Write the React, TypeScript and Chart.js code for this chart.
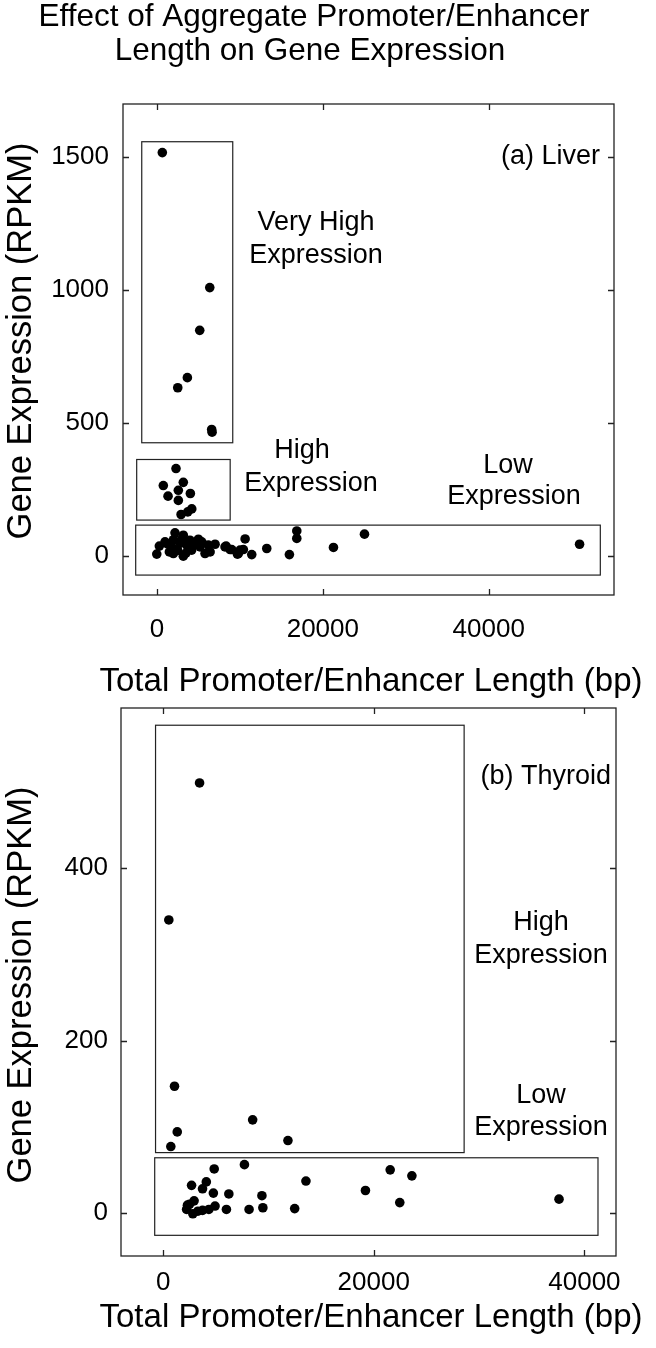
import { useEffect, useRef } from "react";
import { Chart, registerables } from "chart.js";
Chart.register(...registerables);

// ---------- Data: (a) Liver ----------
const liverLength = [
  650, 6370, 5160, 3670, 2510, 6600, 6650,
  2300, 770, 3180, 2580, 1340, 4030, 2580, 4200, 3720, 2910,
  -20, 290, 980, 1500, 1790, 2180, 1980, 2790, 3180, 3180, 3590, 3990, 4190, 5000, 5200, 5800,
  6200, 7010, 6410, 8340, 8820, 9820, 10630, 10420, 11430, 13240, 15970, 16860, 16860,
  21280, 25020, 50950, 10020, 9700, 9020, 8210, 5400, 1200, 2500, 3000, 3500, 4500, 2000,
];
const liverRpkm = [
  1517, 1009, 848, 670, 632, 475, 465,
  328, 264, 276, 246, 224, 234, 208, 176, 165, 155,
  6, 36, 52, 14, 33, 86, 8, 46, 77, -2, 40, 58, 21, 62, 33, 8,
  40, 43, 14, 36, 23, 8, 63, 23, 4, 27, 4, 93, 65,
  31, 81, 43, 21, 6, 23, 33, 52, 45, 20, 62, 10, 45, 60,
];

// ---------- Data: (b) Thyroid ----------
const thyroidLength = [
  3460, 540, 1080, 8500, 1340, 11850, 730,
  4850, 7720, 2700, 4100, 3740, 4770, 6240, 9380, 13560, 19210, 21560, 23620, 22470, 37590,
  2310, 2940, 2230, 2820, 3740, 4340, 4930, 6010, 8160, 9470, 12490, 2500, 3300,
];
const thyroidRpkm = [
  499, 340, 147, 108, 94, 84, 77,
  51, 56, 32, 36, 28, 23, 22, 20, 37, 26, 50, 43, 12, 16,
  9, 14, 4, -1, 3, 4, 8, 4, 4, 6, 5, 10, 2,
];

// ---------- Axes ----------
const liverXRange = [-4090, 55100];
const liverYRange = [-148, 1700];
const liverXTicks = [0, 20000, 40000];
const liverYTicks = [0, 500, 1000, 1500];

const thyroidXRange = [-4000, 43000];
const thyroidYRange = [-50, 586];
const thyroidXTicks = [0, 20000, 40000];
const thyroidYTicks = [0, 200, 400];

// Annotation boxes in data units: [x0, x1, y0, y1]
const liverBoxes = [
  [-1830, 9140, 425, 1558],
  [-2440, 8830, 134, 362],
  [-2560, 53450, -73, 115],
];
const thyroidBoxes = [
  [-720, 28580, 70, 566],
  [-800, 41290, -26, 64],
];

const FONT = "'Liberation Sans', Arial, Helvetica, sans-serif";
const TICK_SIZE = 26;
const NOTE_SIZE = 27;
const AXIS_SIZE = 33;
const YAXIS_SIZE = 34.5;
const TITLE_SIZE = 31.5;

type TextItem = { t: string; x: number; y: number; size: number; align?: CanvasTextAlign; rot?: boolean };

type PanelCfg = {
  top: number;
  height: number;
  area: { left: number; right: number; top: number; bottom: number };
  xs: number[];
  ys: number[];
  xRange: number[];
  yRange: number[];
  xTicks: number[];
  yTicks: number[];
  boxes: number[][];
  texts: TextItem[];
  yTickRight: number;
  xTickY: number;
};

const panels: PanelCfg[] = [
  {
    top: 0,
    height: 700,
    area: { left: 123, right: 614, top: 104, bottom: 595 },
    xs: liverLength,
    ys: liverRpkm,
    xRange: liverXRange,
    yRange: liverYRange,
    xTicks: liverXTicks,
    yTicks: liverYTicks,
    boxes: liverBoxes,
    yTickRight: 109,
    xTickY: 630,
    texts: [
      { t: "Effect of Aggregate Promoter/Enhancer", x: 314, y: 17, size: TITLE_SIZE },
      { t: "Length on Gene Expression", x: 310, y: 51, size: TITLE_SIZE },
      { t: "(a) Liver", x: 600, y: 157, size: NOTE_SIZE, align: "right" },
      { t: "Very High", x: 316, y: 223, size: NOTE_SIZE },
      { t: "Expression", x: 316, y: 256, size: NOTE_SIZE },
      { t: "High", x: 302, y: 451, size: NOTE_SIZE },
      { t: "Expression", x: 311, y: 484, size: NOTE_SIZE },
      { t: "Low", x: 508, y: 466, size: NOTE_SIZE },
      { t: "Expression", x: 514, y: 497, size: NOTE_SIZE },
      { t: "Total Promoter/Enhancer Length (bp)", x: 371, y: 682, size: AXIS_SIZE },
      { t: "Gene Expression (RPKM)", x: 21, y: 341, size: YAXIS_SIZE, rot: true },
    ],
  },
  {
    top: 690,
    height: 658,
    area: { left: 121, right: 616, top: 708, bottom: 1256 },
    xs: thyroidLength,
    ys: thyroidRpkm,
    xRange: thyroidXRange,
    yRange: thyroidYRange,
    xTicks: thyroidXTicks,
    yTicks: thyroidYTicks,
    boxes: thyroidBoxes,
    yTickRight: 108,
    xTickY: 1283,
    texts: [
      { t: "(b) Thyroid", x: 611, y: 777, size: NOTE_SIZE, align: "right" },
      { t: "High", x: 541, y: 923, size: NOTE_SIZE },
      { t: "Expression", x: 541, y: 956, size: NOTE_SIZE },
      { t: "Low", x: 541, y: 1096, size: NOTE_SIZE },
      { t: "Expression", x: 541, y: 1128, size: NOTE_SIZE },
      { t: "Total Promoter/Enhancer Length (bp)", x: 371, y: 1318, size: AXIS_SIZE },
      { t: "Gene Expression (RPKM)", x: 21, y: 985, size: YAXIS_SIZE, rot: true },
    ],
  },
];

function Panel({ cfg }: { cfg: PanelCfg }) {
  const ref = useRef<HTMLCanvasElement | null>(null);
  useEffect(() => {
    if (!ref.current) return;
    const off = cfg.top;
    const decor = {
      id: "decor",
      afterDraw(chart: any) {
        const ctx = chart.ctx as CanvasRenderingContext2D;
        const a = chart.chartArea;
        const xs = chart.scales.x;
        const ys = chart.scales.y;
        ctx.save();
        ctx.strokeStyle = "#222";
        ctx.lineWidth = 1.3;
        ctx.strokeRect(a.left, a.top, a.right - a.left, a.bottom - a.top);
        // inward tick marks on all sides
        const tl = 6;
        ctx.beginPath();
        cfg.xTicks.forEach((v) => {
          const px = Math.round(xs.getPixelForValue(v)) + 0.5;
          ctx.moveTo(px, a.bottom);
          ctx.lineTo(px, a.bottom - tl);
          ctx.moveTo(px, a.top);
          ctx.lineTo(px, a.top + tl);
        });
        cfg.yTicks.forEach((v) => {
          const py = Math.round(ys.getPixelForValue(v)) + 0.5;
          ctx.moveTo(a.left, py);
          ctx.lineTo(a.left + tl, py);
          ctx.moveTo(a.right, py);
          ctx.lineTo(a.right - tl, py);
        });
        ctx.stroke();
        // annotation boxes
        ctx.lineWidth = 1.2;
        cfg.boxes.forEach((b) => {
          const x0 = xs.getPixelForValue(b[0]);
          const x1 = xs.getPixelForValue(b[1]);
          const y0 = ys.getPixelForValue(b[2]);
          const y1 = ys.getPixelForValue(b[3]);
          ctx.strokeRect(x0, y1, x1 - x0, y0 - y1);
        });
        // tick labels
        ctx.fillStyle = "#000";
        ctx.textBaseline = "middle";
        ctx.font = `${TICK_SIZE}px ${FONT}`;
        ctx.textAlign = "center";
        cfg.xTicks.forEach((v) => {
          ctx.fillText(String(v), xs.getPixelForValue(v), cfg.xTickY - off);
        });
        ctx.textAlign = "right";
        cfg.yTicks.forEach((v) => {
          ctx.fillText(String(v), cfg.yTickRight, ys.getPixelForValue(v));
        });
        // texts
        cfg.texts.forEach((t) => {
          ctx.save();
          ctx.font = `${t.size}px ${FONT}`;
          ctx.textAlign = t.align || "center";
          ctx.textBaseline = "middle";
          ctx.translate(t.x, t.y - off);
          if (t.rot) ctx.rotate(-Math.PI / 2);
          ctx.fillText(t.t, 0, 0);
          ctx.restore();
        });
        ctx.restore();
      },
    };
    const chart = new Chart(ref.current, {
      type: "scatter",
      data: {
        datasets: [
          {
            data: cfg.xs.map((x, i) => ({ x, y: cfg.ys[i] })),
            backgroundColor: "#000",
            borderWidth: 0,
            pointRadius: 4.8,
          },
        ],
      },
      options: {
        animation: false,
        responsive: false,
        maintainAspectRatio: false,
        devicePixelRatio: 1,
        layout: {
          padding: {
            left: cfg.area.left,
            right: 656 - cfg.area.right,
            top: cfg.area.top - off,
            bottom: off + cfg.height - cfg.area.bottom,
          },
        },
        scales: {
          x: { type: "linear", display: false, min: cfg.xRange[0], max: cfg.xRange[1] },
          y: { type: "linear", display: false, min: cfg.yRange[0], max: cfg.yRange[1] },
        },
        plugins: { legend: { display: false }, tooltip: { enabled: false }, title: { display: false } },
      },
      plugins: [decor],
    });
    return () => chart.destroy();
  }, [cfg]);
  return (
    <canvas
      ref={ref}
      width={656}
      height={cfg.height}
      style={{ position: "absolute", left: 0, top: cfg.top, width: 656, height: cfg.height }}
    />
  );
}

export default function App() {
  return (
    <div style={{ position: "absolute", left: 0, top: 0, width: 656, height: 1348, background: "#fff" }}>
      {panels.map((p, i) => (
        <Panel key={i} cfg={p} />
      ))}
    </div>
  );
}
